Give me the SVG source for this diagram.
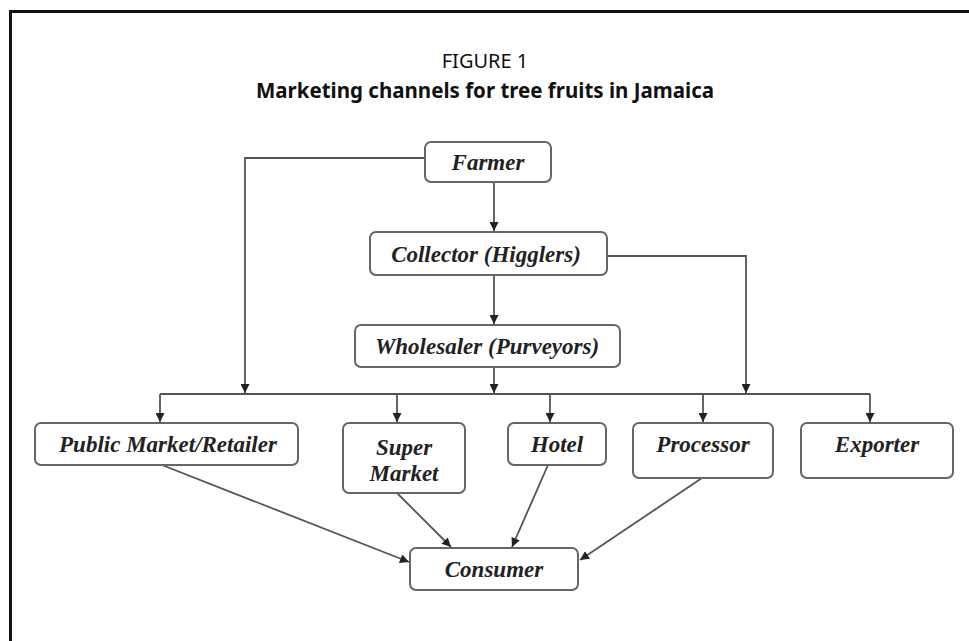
<svg xmlns="http://www.w3.org/2000/svg" width="969" height="641" viewBox="0 0 969 641">
<defs>
<marker id="ah" viewBox="0 0 10 10" refX="10" refY="5" markerWidth="10" markerHeight="9" orient="auto" markerUnits="userSpaceOnUse">
<path d="M0,0 L10,5 L0,10 z" fill="#222"/>
</marker>
<style>
.box{fill:#fff;stroke:#666;stroke-width:2}
.lbl{font-family:"Liberation Serif","Times New Roman",serif;font-weight:bold;font-style:italic;font-size:23px;fill:#222;text-anchor:middle}
.ln{fill:none;stroke:#555;stroke-width:1.8}
.arr{fill:none;stroke:#555;stroke-width:1.8;marker-end:url(#ah)}
.t1{font-family:"Noto Sans","Open Sans",sans-serif;font-size:20px;fill:#111;text-anchor:middle}
.t2{font-family:"Noto Sans","Open Sans",sans-serif;font-size:20.5px;font-weight:bold;fill:#111;text-anchor:middle}
</style>
</defs>
<rect width="969" height="641" fill="#fff"/>
<path d="M10.5,641 V11.5 H969" fill="none" stroke="#111" stroke-width="3"/>
<text class="t1" x="485" y="68">FIGURE 1</text>
<text class="t2" x="485" y="98">Marketing channels for tree fruits in Jamaica</text>
<g id="connectors">
<path class="arr" d="M425,158 H245 V393"/>
<path class="arr" d="M494,183 V231"/>
<path class="arr" d="M607,256 H746 V393"/>
<path class="arr" d="M494,275 V324"/>
<path class="arr" d="M494,367 V393"/>
<path class="ln" d="M160,394 H870"/>
<path class="arr" d="M160,394 V422"/>
<path class="arr" d="M397,394 V422"/>
<path class="arr" d="M550,394 V422"/>
<path class="arr" d="M703,394 V422"/>
<path class="arr" d="M870,394 V422"/>
<path class="arr" d="M162,465 L409,562"/>
<path class="arr" d="M397,493 L451,547"/>
<path class="arr" d="M548,465 L512,547"/>
<path class="arr" d="M702,478 L580,560"/>
</g>
<g id="farmer"><rect class="box" x="425" y="142" width="126" height="40" rx="6"/><text class="lbl" x="488" y="170">Farmer</text></g>
<g id="collector"><rect class="box" x="370" y="232" width="237" height="43" rx="6"/><text class="lbl" x="486" y="262">Collector  (Higglers)</text></g>
<g id="wholesaler"><rect class="box" x="355" y="325" width="265" height="42" rx="6"/><text class="lbl" x="487" y="354">Wholesaler (Purveyors)</text></g>
<g id="public-market"><rect class="box" x="35" y="423" width="263" height="42" rx="6"/><text class="lbl" x="168" y="452">Public Market/Retailer</text></g>
<g id="super-market"><rect class="box" x="343" y="423" width="122" height="70" rx="6"/><text class="lbl" x="404" y="455">Super</text><text class="lbl" x="404" y="481">Market</text></g>
<g id="hotel"><rect class="box" x="508" y="423" width="98" height="42" rx="6"/><text class="lbl" x="557" y="452">Hotel</text></g>
<g id="processor"><rect class="box" x="633" y="423" width="140" height="55" rx="6"/><text class="lbl" x="703" y="452">Processor</text></g>
<g id="exporter"><rect class="box" x="801" y="423" width="152" height="55" rx="6"/><text class="lbl" x="877" y="452">Exporter</text></g>
<g id="consumer"><rect class="box" x="410" y="548" width="168" height="42" rx="6"/><text class="lbl" x="494" y="577">Consumer</text></g>
</svg>
